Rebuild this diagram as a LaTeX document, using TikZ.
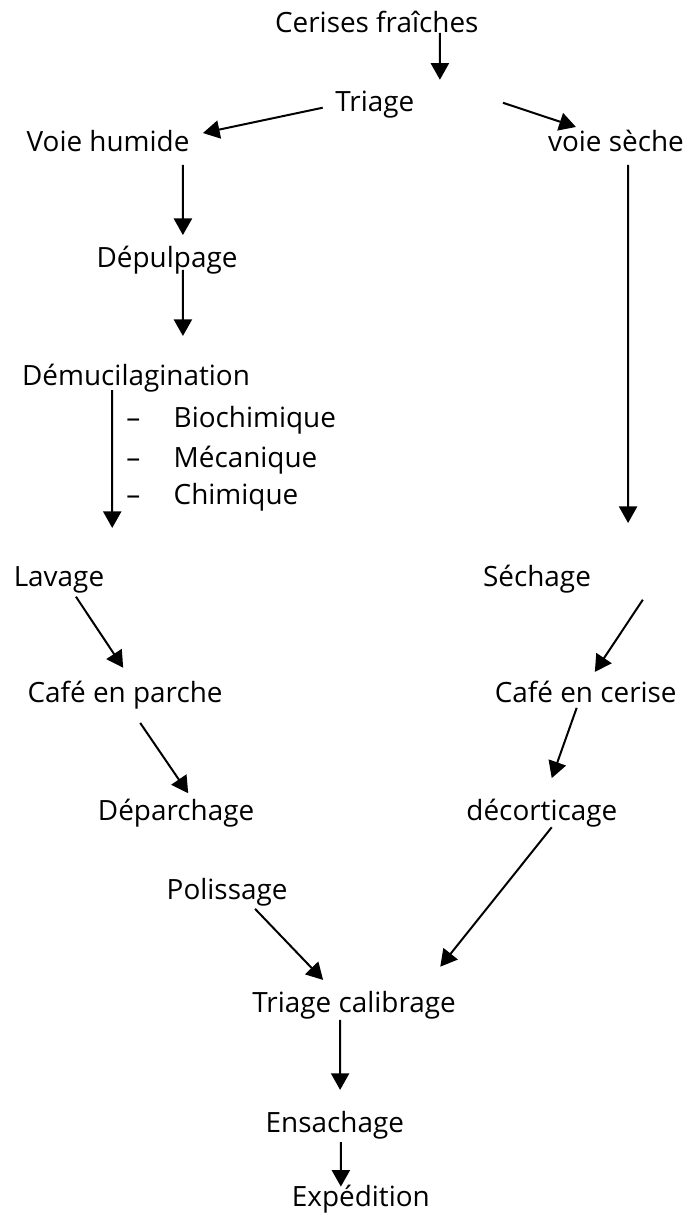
\documentclass[tikz,border=0pt]{standalone}
\usepackage{fontspec}
\setmainfont{Open Sans}
\usetikzlibrary{arrows.meta}

\begin{document}
\begin{tikzpicture}[
    >={Triangle[length=0.44cm,width=0.48cm]},
    stage/.style={inner sep=0pt,anchor=base,font=\fontsize{21}{25}\selectfont},
    item/.style={stage,anchor=base west},
    every edge/.style={draw,->,line width=1.5pt}
  ]
    \useasboundingbox (0,0) rectangle (18.23,-32.23);

    % Reception et triage
    \node[stage] (cerises) at (9.97,-0.87) {Cerises fraîches};
    \node[stage] (triage)  at (9.92,-2.96) {Triage};
    \node[stage] (humide)  at (2.86,-4.02) {Voie humide};
    \node[stage] (seche)   at (16.30,-4.02) {voie sèche};

    % Voie humide
    \node[stage] (depulp)  at (4.42,-7.09) {Dépulpage};
    \node[stage] (demuc)   at (3.60,-10.19) {Démucilagination};
    \node[item]  (bio)     at (3.34,-11.30) {–\hspace{0.88cm}Biochimique};
    \node[item]  (meca)    at (3.34,-12.36) {–\hspace{0.88cm}Mécanique};
    \node[item]  (chim)    at (3.34,-13.36) {–\hspace{0.88cm}Chimique};
    \node[stage] (lavage)  at (1.56,-15.53) {Lavage};
    \node[stage] (parche)  at (3.31,-18.60) {Café en parche};
    \node[stage] (deparch) at (4.66,-21.70) {Déparchage};
    \node[stage] (poliss)  at (6.01,-23.81) {Polissage};

    % Voie seche
    \node[stage] (sechage) at (14.21,-15.53) {Séchage};
    \node[stage] (cerise)  at (15.50,-18.60) {Café en cerise};
    \node[stage] (decort)  at (14.34,-21.70) {décorticage};

    % Fin de chaine
    \node[stage] (calib)   at (9.37,-26.80) {Triage calibrage};
    \node[stage] (ensach)  at (8.86,-29.98) {Ensachage};
    \node[stage] (exped)   at (9.55,-31.93) {Expédition};

    \path ([shift={(1.67,0)}]cerises.base) edge ([shift={(1.72,0.85)}]triage.base)
          ([shift={(-1.38,0.11)}]triage.base) edge ([shift={(2.51,0.50)}]humide.base)
          ([shift={(3.39,0.24)}]triage.base) edge ([shift={(-1.06,0.66)}]seche.base);

    \path ([shift={(1.98,-0.34)}]humide.base) edge ([shift={(0.42,0.87)}]depulp.base)
          ([shift={(0.42,-0.05)}]depulp.base) edge ([shift={(1.24,1.30)}]demuc.base)
          ([shift={(-0.63,-0.13)}]demuc.base) edge ([shift={(1.41,1.56)}]lavage.base)
          ([shift={(0.45,-0.26)}]lavage.base) edge ([shift={(-0.05,0.93)}]parche.base)
          ([shift={(0.40,-0.53)}]parche.base) edge ([shift={(0.32,0.71)}]deparch.base);

    \path ([shift={(0.32,-0.34)}]seche.base) edge ([shift={(2.41,1.69)}]sechage.base)
          ([shift={(2.80,-0.34)}]sechage.base) edge ([shift={(0.24,0.82)}]cerise.base)
          ([shift={(-0.24,-0.13)}]cerise.base) edge ([shift={(0.26,1.11)}]decort.base);

    \path ([shift={(0.26,-0.19)}]decort.base) edge ([shift={(2.28,1.22)}]calib.base)
          ([shift={(0.74,-0.24)}]poliss.base) edge ([shift={(-0.82,0.87)}]calib.base)
          ([shift={(-0.37,-0.19)}]calib.base) edge ([shift={(0.14,1.14)}]ensach.base)
          ([shift={(0.16,-0.24)}]ensach.base) edge ([shift={(-0.53,0.53)}]exped.base);

  \end{tikzpicture}
\end{document}
